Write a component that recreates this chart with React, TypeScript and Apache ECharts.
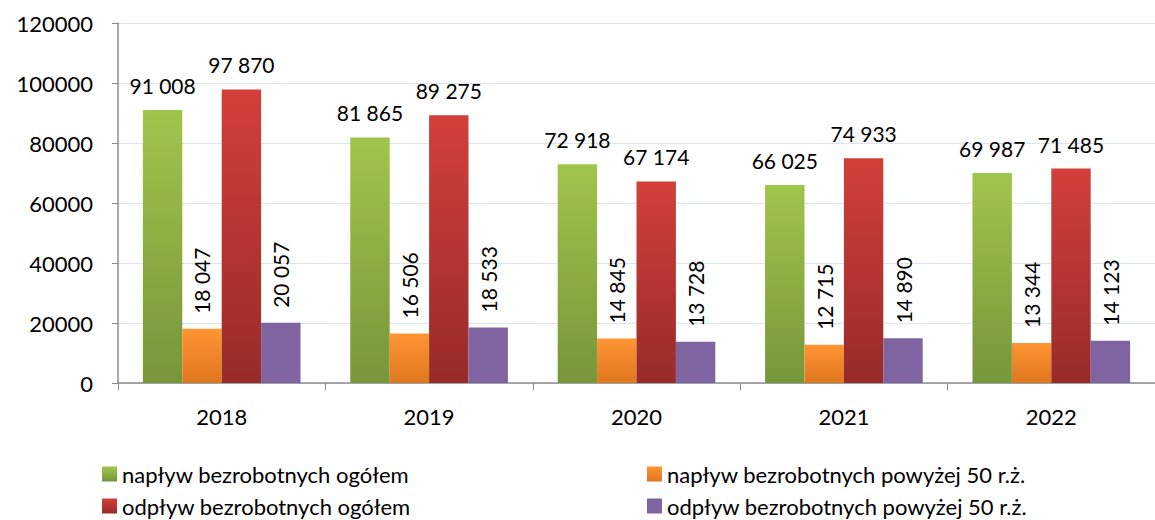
import React, { useEffect, useRef } from "react";
import * as echarts from "echarts";

const years = ["2018", "2019", "2020", "2021", "2022"];
const naplywOgolem = [91008, 81865, 72918, 66025, 69987];
const naplyw50 = [18047, 16506, 14845, 12715, 13344];
const odplywOgolem = [97870, 89275, 67174, 74933, 71485];
const odplyw50 = [20057, 18533, 13728, 14890, 14123];
const seriesNames = [
  "napływ bezrobotnych ogółem",
  "napływ bezrobotnych powyżej 50 r.ż.",
  "odpływ bezrobotnych ogółem",
  "odpływ bezrobotnych powyżej 50 r.ż.",
];

const FONT = "Lato, 'Open Sans', sans-serif";

const fmt = (v: number) => String(v).replace(/\B(?=(\d{3})+(?!\d))/g, " ");

const grad = (top: string, bottom: string) =>
  new echarts.graphic.LinearGradient(0, 0, 0, 1, [
    { offset: 0, color: top },
    { offset: 1, color: bottom },
  ]);

export default function App() {
  const ref = useRef<HTMLDivElement>(null);
  useEffect(() => {
    if (!ref.current) return;
    const chart = echarts.init(ref.current, undefined, { renderer: "svg" });
    const bigLabel = {
      show: true,
      position: "top",
      distance: 14,
      color: "#000",
      fontSize: 21,
      fontFamily: FONT,
      formatter: (p: any) => fmt(p.value),
    };
    const smallLabel = {
      show: true,
      position: "top",
      rotate: 90,
      align: "left",
      verticalAlign: "middle",
      distance: 15,
      color: "#000",
      fontSize: 21,
      fontFamily: FONT,
      formatter: (p: any) => fmt(p.value),
    };
    const legendText = { color: "#000", fontSize: 22, lineHeight: 20, fontFamily: FONT };
    const legendBase = {
      itemWidth: 15,
      itemHeight: 15,
      padding: 0,
      textStyle: legendText,
      icon: "rect",
    };
    chart.setOption({
      animation: false,
      textStyle: { fontFamily: FONT },
      grid: { left: 118, right: 0, top: 23, bottom: 137 },
      legend: [
        { ...legendBase, data: [seriesNames[0]], left: 102, top: 463 },
        { ...legendBase, data: [seriesNames[1]], left: 647, top: 463 },
        { ...legendBase, data: [seriesNames[2]], left: 102, top: 495 },
        { ...legendBase, data: [seriesNames[3]], left: 647, top: 495 },
      ],
      xAxis: {
        type: "category",
        data: years,
        axisLine: { lineStyle: { color: "#8c8c8c", width: 1.5 } },
        axisTick: { show: true, length: 7, lineStyle: { color: "#8c8c8c" } },
        axisLabel: { color: "#000", fontSize: 22, fontFamily: FONT, margin: 22 },
      },
      yAxis: {
        type: "value",
        min: 0,
        max: 120000,
        interval: 20000,
        axisLine: { show: true, lineStyle: { color: "#8c8c8c", width: 1.5 } },
        axisTick: { show: true, length: 6, lineStyle: { color: "#8c8c8c" } },
        axisLabel: {
          color: "#000",
          fontSize: 22,
          fontFamily: FONT,
          margin: 25,
          formatter: (v: number) => String(v),
        },
        splitLine: { show: true, lineStyle: { color: "#dbe5f1", width: 1 } },
      },
      series: [
        {
          name: seriesNames[0],
          type: "bar",
          data: naplywOgolem,
          barGap: "0%",
          barCategoryGap: "24%",
          itemStyle: { color: grad("#a0c54b", "#76963a") },
          label: bigLabel,
        },
        {
          name: seriesNames[1],
          type: "bar",
          data: naplyw50,
          itemStyle: { color: grad("#ff9433", "#df771f") },
          label: smallLabel,
        },
        {
          name: seriesNames[2],
          type: "bar",
          data: odplywOgolem,
          itemStyle: { color: grad("#d33f3b", "#972b28") },
          label: bigLabel,
        },
        {
          name: seriesNames[3],
          type: "bar",
          data: odplyw50,
          itemStyle: { color: "#8064a2" },
          label: smallLabel,
        },
      ],
    });
    return () => chart.dispose();
  }, []);
  return (
    <div
      ref={ref}
      style={{ position: "absolute", left: 0, top: 0, width: 1155, height: 520, background: "#fff" }}
    />
  );
}
